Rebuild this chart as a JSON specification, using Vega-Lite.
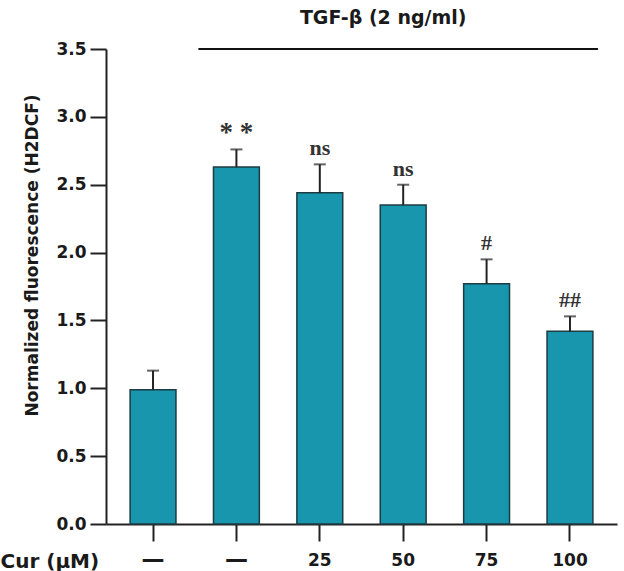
{
  "$schema": "https://vega.github.io/schema/vega-lite/v6.json",
  "autosize": "none",
  "padding": {"left": 106, "top": 49, "right": 7, "bottom": 47},
  "width": 511,
  "height": 475,
  "background": "white",
  "config": {
    "view": {"stroke": null},
    "axis": {
      "labelFont": "DejaVu Sans",
      "labelFontWeight": "bold",
      "labelFontSize": 17,
      "labelColor": "#1a1a1a",
      "titleFont": "DejaVu Sans",
      "titleFontWeight": "bold",
      "titleFontSize": 17,
      "titleColor": "#1a1a1a",
      "domainColor": "#222222",
      "domainWidth": 2,
      "tickColor": "#222222",
      "tickWidth": 2,
      "grid": false
    }
  },
  "datasets": {
    "bars": [
      {"cur": "none1", "value": 0.99, "err": 1.13, "sig": ""},
      {"cur": "none2", "value": 2.63, "err": 2.76, "sig": "* *"},
      {"cur": "25", "value": 2.44, "err": 2.65, "sig": "ns"},
      {"cur": "50", "value": 2.35, "err": 2.50, "sig": "ns"},
      {"cur": "75", "value": 1.77, "err": 1.95, "sig": "#"},
      {"cur": "100", "value": 1.42, "err": 1.53, "sig": "##"}
    ],
    "treat": [
      {"label": "TGF-β (2 ng/ml)", "from": "none2", "to": "100", "mid": "50", "level": 3.5}
    ]
  },
  "layer": [
    {
      "data": {"name": "bars"},
      "mark": {"type": "bar", "color": "#1796AD", "stroke": "#1d3b42", "strokeWidth": 1.5},
      "encoding": {
        "x": {
          "field": "cur", "type": "nominal", "sort": null,
          "scale": {"domain": ["none1", "none2", "25", "50", "75", "100"], "paddingInner": 0.45, "paddingOuter": 0.289},
          "axis": {
            "title": "Cur (μM)",
            "titleFontSize": 20,
            "titleX": -106,
            "titleY": 37,
            "titleAlign": "left",
            "titleBaseline": "middle",
            "titleAngle": 0,
            "labelAngle": 0,
            "tickSize": 17,
            "labelPadding": {"condition": {"test": "datum.value == 'none1' || datum.value == 'none2'", "value": 18}, "value": 19},
            "labelBaseline": "middle",
            "labelFontSize": {"condition": {"test": "datum.value == 'none1' || datum.value == 'none2'", "value": 23}, "value": 17},
            "labelExpr": "datum.value == 'none1' || datum.value == 'none2' ? '—' : datum.value"
          }
        },
        "y": {
          "field": "value", "type": "quantitative",
          "scale": {"domain": [0, 3.5], "nice": false, "zero": true},
          "axis": {
            "title": "Normalized fluorescence (H2DCF)",
            "values": [0, 0.5, 1, 1.5, 2, 2.5, 3, 3.5],
            "format": ".1f",
            "tickSize": 16,
            "labelPadding": 4,
            "titleX": -74,
            "titleY": 206,
            "titleAngle": -90,
            "titleAlign": "center",
            "titleBaseline": "middle"
          }
        }
      }
    },
    {
      "data": {"name": "bars"},
      "mark": {"type": "rule", "color": "#222222", "strokeWidth": 2},
      "encoding": {
        "x": {"field": "cur", "type": "nominal", "sort": null},
        "y": {"field": "value", "type": "quantitative"},
        "y2": {"field": "err"}
      }
    },
    {
      "data": {"name": "bars"},
      "mark": {"type": "tick", "orient": "horizontal", "size": 12, "thickness": 2, "color": "#222222"},
      "encoding": {
        "x": {"field": "cur", "type": "nominal", "sort": null},
        "y": {"field": "err", "type": "quantitative"}
      }
    },
    {
      "data": {"name": "bars"},
      "mark": {"type": "text", "font": "Liberation Serif", "fontWeight": "bold", "color": "#333333", "baseline": "middle"},
      "encoding": {
        "x": {"field": "cur", "type": "nominal", "sort": null},
        "y": {"field": "err", "type": "quantitative"},
        "text": {"field": "sig"},
        "size": {"condition": {"test": "datum.sig == '* *'", "value": 27}, "value": 22},
        "yOffset": {"condition": {"test": "datum.sig == '* *'", "value": -12}, "value": -16}
      }
    },
    {
      "data": {"name": "treat"},
      "mark": {"type": "rule", "color": "#111111", "strokeWidth": 2, "xOffset": -38, "x2Offset": 28},
      "encoding": {
        "x": {"field": "from", "type": "nominal", "sort": null},
        "x2": {"field": "to"},
        "y": {"field": "level", "type": "quantitative"}
      }
    },
    {
      "data": {"name": "treat"},
      "mark": {"type": "text", "font": "DejaVu Sans", "fontWeight": "bold", "fontSize": 19, "color": "#1a1a1a", "dy": -31, "dx": -20, "baseline": "middle", "align": "center"},
      "encoding": {
        "x": {"field": "mid", "type": "nominal", "sort": null},
        "y": {"field": "level", "type": "quantitative"},
        "text": {"field": "label"}
      }
    }
  ]
}
